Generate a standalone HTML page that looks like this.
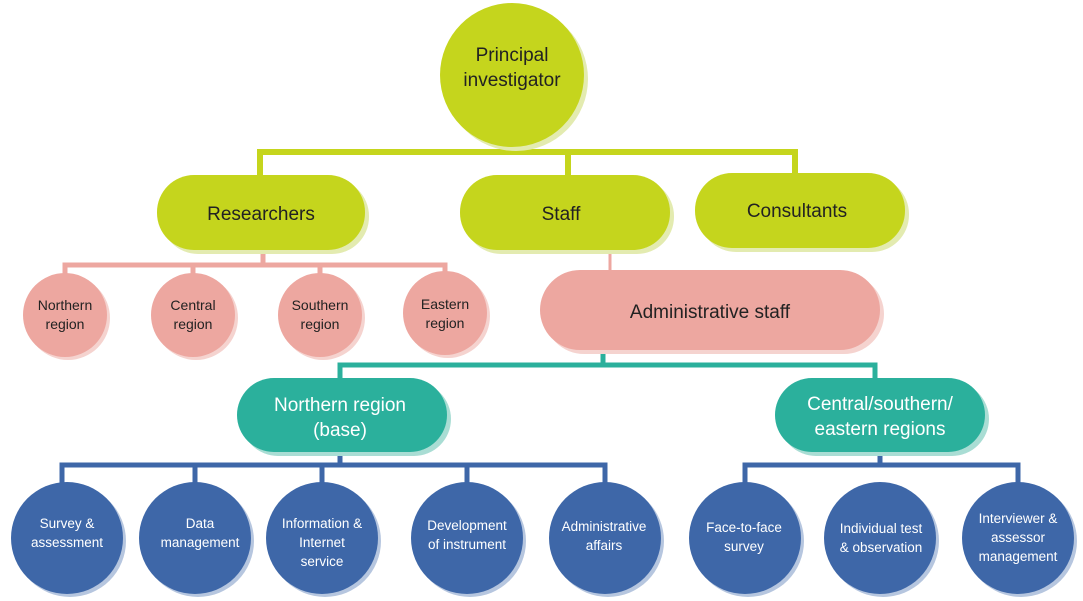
<!DOCTYPE html>
<html><head><meta charset="utf-8"><style>
html,body{margin:0;padding:0;background:#fff}
svg{display:block}
text{font-family:"Liberation Sans",sans-serif;text-anchor:middle}
</style></head><body>
<svg width="1083" height="601" viewBox="0 0 1083 601">
<g fill="none" stroke-linejoin="miter">
<path d="M512 140V152M260 178V152H795V176M568 152V178" stroke="#c5d51d" stroke-width="6"/>
<path d="M263 250V265M65 275V265H445V273M193 265V275M320 265V275" stroke="#eda7a0" stroke-width="5"/>
<path d="M610 250V272" stroke="#eda7a0" stroke-width="3"/>
<path d="M603 350V365M340 380V365H875V380" stroke="#2bb09c" stroke-width="5"/>
<path d="M340 452V465M62 485V465H605V485M195 465V485M322 465V485M467 465V485" stroke="#3e67a8" stroke-width="5"/>
<path d="M880 452V465M745 485V465H1018V485" stroke="#3e67a8" stroke-width="5"/>
</g>
<circle cx="516" cy="79" r="72" fill="#e3ebb0"/>
<circle cx="512" cy="75" r="72" fill="#c5d51d"/>
<text x="512" y="61" font-size="19" fill="#222">Principal</text>
<text x="512" y="86" font-size="19" fill="#222">investigator</text>
<rect x="161" y="179" width="208" height="75" rx="37" fill="#e3ebb0"/>
<rect x="157" y="175" width="208" height="75" rx="37" fill="#c5d51d"/>
<text x="261" y="220" font-size="19" fill="#222">Researchers</text>
<rect x="464" y="179" width="210" height="75" rx="37" fill="#e3ebb0"/>
<rect x="460" y="175" width="210" height="75" rx="37" fill="#c5d51d"/>
<text x="561" y="220" font-size="19" fill="#222">Staff</text>
<rect x="699" y="177" width="210" height="75" rx="37" fill="#e3ebb0"/>
<rect x="695" y="173" width="210" height="75" rx="37" fill="#c5d51d"/>
<text x="797" y="217" font-size="19" fill="#222">Consultants</text>
<g fill="#f5d3cf"><circle cx="68" cy="318" r="42"/><circle cx="196" cy="318" r="42"/><circle cx="323" cy="318" r="42"/><circle cx="448" cy="316" r="42"/></g>
<g fill="#eda7a0"><circle cx="65" cy="315" r="42"/><circle cx="193" cy="315" r="42"/><circle cx="320" cy="315" r="42"/><circle cx="445" cy="313" r="42"/></g>
<g font-size="14" fill="#222">
<text x="65" y="310">Northern</text><text x="65" y="329">region</text>
<text x="193" y="310">Central</text><text x="193" y="329">region</text>
<text x="320" y="310">Southern</text><text x="320" y="329">region</text>
<text x="445" y="309">Eastern</text><text x="445" y="328">region</text>
</g>
<rect x="544" y="274" width="340" height="80" rx="40" fill="#f5d3cf"/>
<rect x="540" y="270" width="340" height="80" rx="40" fill="#eda7a0"/>
<text x="710" y="318" font-size="19" fill="#222">Administrative staff</text>
<rect x="241" y="382" width="210" height="74" rx="37" fill="#a9ddd4"/>
<rect x="237" y="378" width="210" height="74" rx="37" fill="#2bb09c"/>
<text x="340" y="411" font-size="19" fill="#fff">Northern region</text>
<text x="340" y="436" font-size="19" fill="#fff">(base)</text>
<rect x="779" y="382" width="210" height="74" rx="37" fill="#a9ddd4"/>
<rect x="775" y="378" width="210" height="74" rx="37" fill="#2bb09c"/>
<text x="880" y="410" font-size="19" fill="#fff">Central/southern/</text>
<text x="880" y="435" font-size="19" fill="#fff">eastern regions</text>
<g fill="#b6c6df"><circle cx="70" cy="541" r="56"/><circle cx="198" cy="541" r="56"/><circle cx="325" cy="541" r="56"/><circle cx="470" cy="541" r="56"/><circle cx="608" cy="541" r="56"/><circle cx="748" cy="541" r="56"/><circle cx="883" cy="541" r="56"/><circle cx="1021" cy="541" r="56"/></g>
<g fill="#3e67a8"><circle cx="67" cy="538" r="56"/><circle cx="195" cy="538" r="56"/><circle cx="322" cy="538" r="56"/><circle cx="467" cy="538" r="56"/><circle cx="605" cy="538" r="56"/><circle cx="745" cy="538" r="56"/><circle cx="880" cy="538" r="56"/><circle cx="1018" cy="538" r="56"/></g>
<g font-size="13.5" fill="#fff">
<text x="67" y="528">Survey &amp;</text><text x="67" y="547">assessment</text>
<text x="200" y="528">Data</text><text x="200" y="547">management</text>
<text x="322" y="528">Information &amp;</text><text x="322" y="547">Internet</text><text x="322" y="566">service</text>
<text x="467" y="530">Development</text><text x="467" y="549">of instrument</text>
<text x="604" y="531">Administrative</text><text x="604" y="550">affairs</text>
<text x="744" y="532">Face-to-face</text><text x="744" y="551">survey</text>
<text x="881" y="533">Individual test</text><text x="881" y="552">&amp; observation</text>
<text x="1018" y="523">Interviewer &amp;</text><text x="1018" y="542">assessor</text><text x="1018" y="561">management</text>
</g>
</svg>
</body></html>
